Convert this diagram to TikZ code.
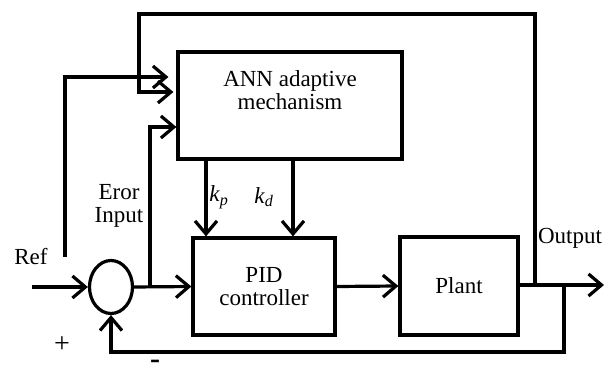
\documentclass[tikz,border=0pt]{standalone}
\usepackage{fontspec}
\setmainfont{Liberation Serif}
\usetikzlibrary{arrows.meta,shapes.geometric}
\begin{document}
\begin{tikzpicture}[x=1pt,y=-1pt,
  every node/.style={font=\fontsize{23}{27}\selectfont, inner sep=0pt},
  blk/.style={draw, line width=3.2pt, rectangle},
  wire/.style={line width=3.2pt},
  arr/.style={wire, -{Straight Barb[length=13pt,width=22pt,line width=3.2pt]}}]
\useasboundingbox (0,0) rectangle (611,374);
% blocks
\node[blk, minimum width=224, minimum height=107] (ann) at (290,105.5) {};
\node (annt) at (290,93) {\begin{tabular}{c}ANN adaptive\\[-4pt] mechanism\end{tabular}};
\node[blk, minimum width=142, minimum height=97] (pid) at (264,286.5) {};
\node (pidt) at (264,289) {\begin{tabular}{c}PID\\[-4pt] controller\end{tabular}};
\node[blk, minimum width=118, minimum height=98] (plant) at (459,286) {Plant};
\node[draw, line width=3.2pt, ellipse, minimum width=43, minimum height=53] (sum) at (111,287) {};
% coordinates
\coordinate (refin) at (32,287);
\coordinate (refb) at (65,257);
\coordinate (refc) at (65,77);
\coordinate (e1) at (150,287);
\coordinate (e2) at (150,127);
\coordinate (o1) at (535,285);
\coordinate (o2) at (535,14);
\coordinate (o3) at (139,14);
\coordinate (o4) at (139,92);
\coordinate (f1) at (564,285);
\coordinate (f2) at (564,352);
\coordinate (f3) at (111,352);
\coordinate (out) at (604,285);
% connectors
\draw[arr] (refin) -- (sum.west);
\draw[arr] (sum.east) -- (pid.west);
\draw[arr] (e1) -- (e2) -- (ann.west |- e2);
\draw[arr] (refb) -- (refc) -- ([xshift=-8pt]ann.west |- refc);
\draw[arr] (o1) -- (o2) -- (o3) -- (o4) -- ([xshift=-3pt]ann.west |- o4);
\draw[arr] (pid.east) -- (plant.west);
\draw[arr] (plant.east |- out) -- (out);
\draw[arr] (f1) -- (f2) -- (f3) -- (sum.south);
\draw[arr] (ann.south -| 206,0) -- (pid.north -| 206,0);
\draw[arr] (ann.south -| 293,0) -- (pid.north -| 293,0);
% labels
\node (lref) at (31,257) {Ref};
\node[font=\fontsize{28}{30}\selectfont] (lplus) at (62,345) {+};
\node[font=\fontsize{30}{30}\selectfont\bfseries] (lminus) at (155,364) {-};
\node (lout) at (570,238) {Output};
\node (lerr) at (119,206) {\begin{tabular}{c}Eror\\[-4pt] Input\end{tabular}};
\node (lkp) at (219,197) {\textit{k}\textsubscript{\textit{p}}};
\node (lkd) at (264,197) {\textit{k}\textsubscript{\textit{d}}};
\end{tikzpicture}
\end{document}
